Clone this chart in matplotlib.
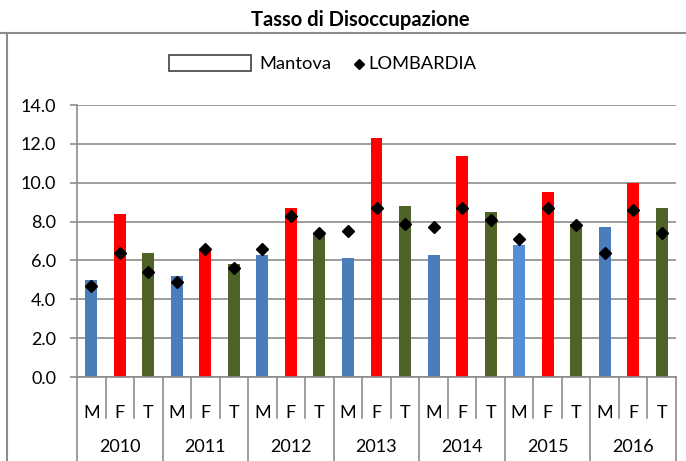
import matplotlib.pyplot as plt
from matplotlib.lines import Line2D
from matplotlib.patches import Rectangle
import matplotlib.transforms as mtransforms

plt.rcParams['font.family'] = ['Lato', 'DejaVu Sans']

anni = ['2010', '2011', '2012', '2013', '2014', '2015', '2016']
sessi = ['M', 'F', 'T']
mantova = [5.0, 8.4, 6.4, 5.2, 6.6, 5.8, 6.3, 8.7, 7.4, 6.1, 12.3, 8.8,
           6.3, 11.4, 8.5, 6.8, 9.5, 7.9, 7.7, 10.0, 8.7]
lombardia = [4.7, 6.4, 5.4, 4.9, 6.6, 5.6, 6.6, 8.3, 7.4, 7.5, 8.7, 7.9,
             7.7, 8.7, 8.1, 7.1, 8.7, 7.8, 6.4, 8.6, 7.4]
colori = {'M': '#4A7EBB', 'F': '#FF0000', 'T': '#4F6228'}

etichette = [s for a in anni for s in sessi]
col_barre = [colori[s] for s in etichette]
col_barre[15] = '#558ED5'
x = list(range(len(etichette)))

fig = plt.figure(figsize=(6.86, 4.61), dpi=100)
ax = fig.add_axes([77/686, 84/461, 599/686, 272/461])

ax.bar(x, mantova, width=0.42, color=col_barre, zorder=2)
ax.plot(x, lombardia, 'D', color='black', ms=6.5, zorder=3, linestyle='none')

ax.set_ylim(0, 14)
ax.set_xlim(-0.5, len(x) - 0.5)
ax.set_yticks([0, 2, 4, 6, 8, 10, 12, 14])
ax.set_yticklabels(['%.1f' % v for v in [0, 2, 4, 6, 8, 10, 12, 14]])
ax.yaxis.grid(True, color='#8C8C8C', linewidth=1.2, zorder=0)
ax.set_axisbelow(True)
ax.tick_params(axis='y', length=5, width=1.2, color='#8C8C8C', pad=10, labelsize=13)
for s in ['top', 'right']:
    ax.spines[s].set_visible(False)
for s in ['left', 'bottom']:
    ax.spines[s].set_color('#8C8C8C')
    ax.spines[s].set_linewidth(1.2)

ax.set_xticks(x)
ax.set_xticklabels(etichette)
ax.tick_params(axis='x', length=0, pad=20, labelsize=13)

tr = mtransforms.blended_transform_factory(ax.transData, ax.transAxes)
for i in range(len(x) + 1):
    if i % 3 == 0:
        y0 = -0.32
    else:
        y0 = -41/272
    ax.plot([i - 0.5, i - 0.5], [0, y0], color='#8C8C8C', lw=1.2,
            transform=tr, clip_on=False)
for j, a in enumerate(anni):
    ax.text(3*j + 1, -70/272, a, transform=tr, ha='center', va='center', fontsize=13)

# cornice e titolo
fig.add_artist(Line2D([0, 1], [1 - 33/461, 1 - 33/461], color='#8C8C8C', lw=1.5))
fig.add_artist(Line2D([7/686, 7/686], [0, 1 - 33/461], color='#8C8C8C', lw=1.5))
fig.text(360/686, 1 - 20/461, 'Tasso di Disoccupazione', ha='center', va='center',
         fontsize=14.5, fontweight='bold')

# legenda
fig.add_artist(Rectangle((169/686, 1 - 71/461), 82/686, 16/461, facecolor='white',
                         edgecolor='#404040', lw=1.2, transform=fig.transFigure))
fig.text(259/686, 1 - 64/461, 'Mantova', ha='left', va='center', fontsize=13.2)
fig.add_artist(Line2D([359/686], [1 - 64/461], marker='D', color='black', ms=5,
                      linestyle='none'))
fig.text(368/686, 1 - 64/461, 'LOMBARDIA', ha='left', va='center', fontsize=13.2)

plt.savefig('out.png', dpi=100)
